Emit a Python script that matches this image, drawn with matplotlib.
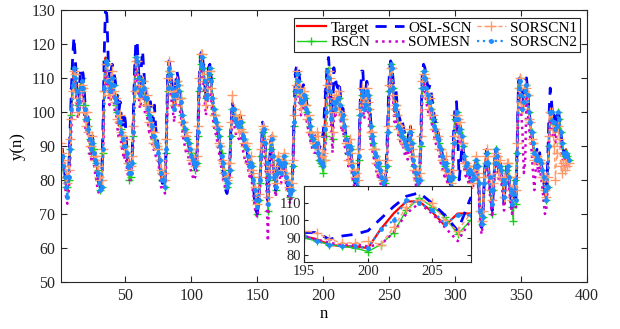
import numpy as np
import matplotlib
matplotlib.use("Agg")
import matplotlib.pyplot as plt

plt.rcParams['font.family'] = ['Liberation Serif', 'DejaVu Serif']
plt.rcParams['mathtext.fontset'] = 'stix'

n = list(range(1, 387))

target = [
 86,88,84,82,79,77,81,90,100,108, 114,110,105,101,104,108,109,106,101,97,
 99,95,91,89,92,88,85,86,82,79, 78,79,90,108,116,113,108,106,109,111,
 107,104,103,99,96,98,94,92,89,91, 87,84,82,83,86,95,108,117,114,109,
 105,107,110,106,103,104,101,98,99,95, 92,93,90,91,88,85,81,80,81,79,
 90,108,113,110,107,104,101,106,110,107, 105,103,98,96,94,92,93,90,88,87,
 86,85,84,86,95,108,115,116,112,108, 103,106,112,113,108,103,100,98,97,94,
 92,89,87,84,82,80,79,80,84,95, 102,100,98,96,97,95,98,96,93,91,
 89,90,86,84,86,83,80,76,73,72, 75,80,88,95,94,90,84,73,82,90,
 92,86,81,78,83,86,84,82,85,87, 84,81,79,77,76,78,85,98,107,111,
 108,106,102,104,105,103,101,99,98,95, 93,92,90,90,91,89,86,85,85,84,
 95,104,111,111,105,97,104,104,100,104, 103,105,101,98,99,95,92,90,87,91,
 88,84,82,80,81,79,88,100,106,104, 101,103,106,104,100,95,93,90,88,86,
 84,85,82,81,79,79,80,85,95,107, 114,112,106,100,103,98,96,95,93,94,
 92,90,91,89,93,94,90,86,84,82, 80,79,81,92,108,112,109,106,104,102,
 103,100,98,96,94,93,92,90,88,87, 85,84,86,82,81,80,78,82,92,98,
 100,97,94,96,92,90,86,84,85,82, 84,81,80,82,85,86,83,78,70,66,
 70,80,86,88,84,80,76,72,78,86, 89,86,83,85,82,79,74,80,84,83,
 80,76,73,77,80,75,90,108,109,104, 100,104,107,108,104,99,96,93,90,87,
 86,88,85,87,84,82,80,76,74,80, 92,101,99,96,98,94,97,100,97,93,
 90,88,86,89,87,86]

osl_scn = [
 85,90,86,83,80,78,82,94,106,116, 122,116,108,103,107,112,113,111,105,99,
 101,97,93,90,93,89,86,85,81,78, 77,80,96,118,132,128,115,109,112,114,
 112,110,107,104,100,103,98,95,100,97, 90,86,82,82,86,99,113,121,120,112,
 108,113,118,112,106,106,103,101,103,99, 97,102,95,93,89,85,81,79,81,79,
 92,110,115,113,109,106,103,108,112,110, 107,104,99,97,95,92,93,90,88,86,
 85,84,83,85,96,110,117,118,114,110, 105,108,113,114,110,104,101,98,97,94,
 92,88,86,83,80,77,76,78,83,96, 103,101,99,97,98,96,99,97,94,91,
 89,90,86,84,86,82,78,74,71,70, 74,80,89,97,95,91,84,74,83,91,
 93,87,80,77,83,86,84,81,85,87, 84,81,78,76,75,77,86,102,112,114,
 113,110,106,107,108,106,104,101,99,96, 94,93,92,93,93,93,89,91,92,94,
 101,108,114,116,110,103,94,113,110,108, 107,109,105,101,101,97,93,91,88,92,
 89,84,82,79,80,78,88,103,112,112, 104,106,109,107,103,97,94,91,89,87,
 85,86,83,82,80,79,80,87,99,111, 115,114,109,104,107,102,99,98,96,97,
 95,93,93,91,95,96,92,87,84,82, 80,79,82,95,111,114,113,110,108,107,
 108,105,102,99,97,95,94,92,90,88, 86,84,86,82,80,79,78,84,96,102,
 103,92,80,84,90,89,85,83,84,81, 83,80,79,81,84,85,82,77,69,66,
 70,80,87,89,85,80,75,71,77,86, 90,87,83,85,82,79,73,79,84,83,
 80,75,72,76,80,74,91,109,110,106, 102,106,109,110,106,100,97,94,91,88,
 87,89,86,88,85,83,80,76,75,84, 98,107,103,98,99,95,98,101,98,94,
 91,89,87,89,88,87]

rscn = [
 85,87,83,81,78,78,80,89,99,107, 113,111,106,102,103,107,110,107,102,98,
 98,96,92,88,91,89,86,85,83,80, 77,78,88,106,115,114,109,107,108,110,
 108,105,102,100,97,97,95,93,90,90, 88,85,80,81,85,93,106,116,115,110,
 106,106,109,107,104,103,102,99,98,96, 93,92,91,90,89,86,82,80,80,78,
 88,106,112,111,108,105,102,105,109,108, 106,104,99,97,95,93,92,91,89,88,
 87,86,83,85,93,106,114,116,113,109, 104,105,111,113,110,104,101,99,97,95,
 93,90,88,85,83,81,78,79,83,93, 101,101,99,97,96,96,97,97,94,92,
 90,89,87,85,85,84,81,77,74,70, 74,79,87,94,95,91,85,71,80,89,
 93,87,82,77,82,86,85,83,84,87, 85,82,80,77,75,77,84,96,106,111,
 109,107,103,103,105,104,102,100,98,96, 94,92,91,90,90,88,86,85,84,82,
 86,93,106,113,108,102,92,100,101,103, 104,104,102,99,98,96,93,90,88,90,
 89,85,82,80,80,77,86,99,105,105, 102,102,105,105,101,96,93,91,89,87,
 85,84,83,81,79,78,79,84,94,106, 114,113,107,101,102,99,96,95,94,93,
 92,91,90,89,92,94,91,87,84,82, 80,78,80,90,107,112,110,107,105,103,
 103,101,98,97,95,93,92,91,89,87, 86,84,85,83,81,80,78,81,91,98,
 100,98,94,95,93,90,87,84,84,83, 83,82,80,81,84,86,84,79,71,67,
 69,79,85,88,85,81,77,70,77,85, 89,87,84,84,83,80,75,79,83,84,
 81,77,72,68,80,73,88,107,110,105, 101,103,106,108,105,100,97,94,91,88,
 86,87,86,86,85,83,81,77,74,78, 90,100,100,97,97,95,96,100,98,94,
 91,88,87,88,87,86]

somesn = [
 87,86,85,80,75,73,76,84,95,104, 110,108,103,98,100,104,106,104,98,94,
 95,92,87,86,88,85,82,80,77,76, 76,78,86,103,112,111,105,102,104,107,
 104,100,99,95,92,94,90,88,86,88, 84,81,80,80,84,91,104,114,111,105,
 101,103,106,103,99,100,97,94,95,91, 89,89,87,87,85,82,78,77,78,76,
 86,104,110,107,103,100,97,102,106,104, 101,99,95,92,90,88,89,86,84,82,
 81,80,81,83,91,104,111,113,109,104, 99,102,108,109,104,99,96,94,93,90,
 88,85,83,80,79,77,77,78,81,91, 98,97,95,93,93,92,94,92,89,87,
 85,86,83,81,82,79,76,72,70,69, 72,77,85,92,91,86,78,62,78,87,
 89,83,78,75,80,83,81,79,82,84, 81,78,76,74,73,75,82,95,104,108,
 105,103,99,101,102,100,98,96,94,92, 90,89,88,88,91,89,87,86,86,85,
 86,93,104,110,104,96,88,100,98,101, 100,102,98,94,95,91,88,87,84,88,
 85,81,79,77,78,76,85,96,103,101, 98,100,103,101,96,91,89,87,85,83,
 81,82,80,78,76,76,77,82,92,104, 111,109,103,97,100,95,93,92,90,91,
 89,87,88,86,90,91,87,83,81,79, 77,76,78,89,104,109,106,103,101,99,
 100,97,95,93,91,90,89,87,85,84, 82,81,83,79,78,77,75,79,89,95,
 97,94,91,93,89,87,83,81,82,79, 81,78,77,79,82,83,80,75,67,64,
 67,77,83,85,81,77,73,69,75,83, 86,83,80,82,79,76,71,77,81,80,
 77,73,70,74,77,72,86,104,106,100, 94,82,85,104,100,95,92,88,82,77,
 83,85,82,84,81,78,74,70,71,77, 89,98,96,93,95,91,94,97,94,90,
 87,85,83,86,84,83]

sorscn1 = [
 91,88,86,84,81,79,83,92,98,106, 112,111,104,100,103,106,108,107,100,96,
 100,94,90,90,93,87,86,87,84,81, 80,80,89,106,114,114,106,105,110,112,
 106,103,104,98,97,99,94,93,90,92, 88,85,83,84,87,96,106,115,115,108,
 104,106,109,107,102,105,102,97,100,96, 91,94,91,90,89,86,83,82,82,80,
 92,110,115,112,106,105,102,104,109,108, 104,104,97,97,93,93,94,89,89,86,
 87,86,84,87,96,110,117,117,111,109, 102,107,112,112,107,104,99,99,96,96,
 91,90,86,85,82,81,80,81,85,97, 105,101,99,97,98,94,99,95,94,91,
 90,91,87,85,87,83,82,78,74,73, 76,81,89,96,95,91,85,75,83,92,
 93,87,82,79,84,87,85,83,86,88, 85,82,80,78,77,79,86,99,108,112,
 107,107,101,105,106,102,102,98,99,94, 94,93,91,91,94,93,89,87,87,88,
 86,96,108,112,110,100,94,104,101,105, 102,106,100,99,98,96,91,91,86,92,
 88,85,83,81,82,80,89,101,107,103, 102,104,107,103,101,94,94,89,89,85,
 85,86,83,82,80,80,81,86,96,108, 113,113,105,101,102,99,95,96,92,95,
 91,91,90,90,92,95,89,87,83,83, 81,80,82,93,109,111,110,105,105,101,
 104,99,99,95,95,92,93,89,89,86, 86,83,87,83,82,81,79,83,93,99,
 99,98,93,97,91,91,85,85,84,83, 83,82,79,83,84,87,82,79,71,68,
 71,81,87,89,85,81,77,74,79,87, 88,87,82,86,81,80,75,81,85,85,
 81,77,74,78,81,77,91,107,110,103, 101,103,108,107,105,98,97,92,91,86,
 87,87,86,86,85,81,81,77,75,81, 93,100,100,95,90,80,88,96,92,84,
 82,85,83,86,84,85]

sorscn2 = [
 86,87,84,81,78,75,81,89,101,108, 113,110,106,101,103,107,109,107,101,98,
 98,95,92,89,91,88,86,85,82,79, 77,78,89,107,115,114,109,106,108,110,
 108,104,103,100,97,97,94,92,90,90, 88,84,82,82,85,94,107,116,115,110,
 105,106,109,107,104,104,101,99,98,96, 93,93,91,90,88,86,82,80,80,78,
 89,107,113,111,107,105,101,105,109,108, 106,103,99,97,95,92,92,91,89,87,
 86,85,84,85,94,107,114,116,113,109, 104,105,111,113,109,104,101,98,97,95,
 93,90,87,85,82,80,78,79,83,93, 101,101,98,97,96,96,97,97,93,92,
 90,89,87,84,85,84,80,77,74,72, 74,80,87,94,95,91,85,73,81,89,
 92,87,81,78,82,86,85,82,84,87, 85,81,79,77,76,77,84,97,106,111,
 109,106,103,103,105,104,101,100,98,96, 93,92,90,90,91,88,86,85,85,84,
 95,100,112,110,106,98,103,103,101,103, 104,104,102,98,99,96,92,90,88,90,
 89,84,82,80,80,78,87,99,106,105, 101,102,106,105,101,96,93,91,88,87,
 84,85,83,81,79,78,80,84,94,106, 114,113,107,101,102,99,96,95,93,94,
 92,91,90,89,92,94,91,86,84,82, 80,78,80,91,107,112,110,107,105,103,
 103,101,98,96,95,93,92,90,89,87, 85,84,85,83,81,80,78,81,91,98,
 100,98,94,95,93,90,87,84,85,82, 83,82,80,81,84,86,84,79,71,67,
 69,79,85,88,85,81,77,73,77,85, 89,87,84,84,83,80,75,79,83,84,
 81,77,73,76,80,74,88,107,109,105, 101,103,106,108,105,100,97,94,91,88,
 86,87,86,86,85,83,81,77,74,78, 90,100,100,97,97,95,96,100,98,94,
 91,88,87,88,87,86]

labels = ["Target", "RSCN", "OSL-SCN", "SOMESN", "SORSCN1", "SORSCN2"]
xticks_main = [50, 100, 150, 200, 250, 300, 350, 400]
yticks_main = [50, 60, 70, 80, 90, 100, 110, 120, 130]
xticks_inset = [195, 200, 205]
yticks_inset = [80, 90, 100, 110]

C_T = '#ff0000'
C_O = '#0000ff'
C_R = '#1ccf1c'
C_S = '#cc00cc'
C_1 = '#ff9a6a'
C_2 = '#1e8cff'

def draw(ax):
    h = {}
    h["Target"], = ax.plot(n, target, '-', color=C_T, lw=1.6)
    h["RSCN"], = ax.plot(n, rscn, '-', color=C_R, lw=1.0,
                         marker='+', ms=6, mew=1.0)
    h["OSL-SCN"], = ax.plot(n, osl_scn, '--', color=C_O, lw=2.0,
                            dashes=(4, 3))
    h["SOMESN"], = ax.plot(n, somesn, ':', color=C_S, lw=1.8)
    h["SORSCN1"], = ax.plot(n, sorscn1, '--', color=C_1, lw=1.0,
                            marker='+', ms=7, mew=1.0, dashes=(3, 2))
    h["SORSCN2"], = ax.plot(n, sorscn2, ':', color=C_2, lw=1.6,
                            marker='.', ms=5)
    return h

fig = plt.figure(figsize=(6.2, 3.29), dpi=100)
ax = fig.add_axes([0.098, 0.143, 0.849, 0.827])
h = draw(ax)
ax.set_xlim(1, 400)
ax.set_ylim(50, 130)
ax.set_xticks(xticks_main)
ax.set_yticks(yticks_main)
ax.tick_params(direction='in', top=True, right=True, length=4, width=0.8,
               labelsize=11.5, colors='#262626', pad=4)
for s in ax.spines.values():
    s.set_color('#262626')
    s.set_linewidth(0.8)
ax.set_xlabel('n', fontsize=12, labelpad=2)
ax.set_ylabel('y(n)', fontsize=12, labelpad=4)

leg = ax.legend([h[k] for k in labels], labels, ncol=3, loc='upper right',
                bbox_to_anchor=(0.987, 0.971), borderaxespad=0,
                fontsize=11, fancybox=False, framealpha=1,
                edgecolor='#262626', handlelength=1.9, handletextpad=0.3,
                columnspacing=0.3, labelspacing=0.05, borderpad=0.2)
leg.get_frame().set_linewidth(0.8)

ax2 = fig.add_axes([0.490, 0.204, 0.269, 0.231])
draw(ax2)
ax2.set_xlim(195, 208)
ax2.set_ylim(76, 120)
ax2.set_xticks(xticks_inset)
ax2.set_yticks(yticks_inset)
ax2.tick_params(direction='in', top=True, right=True, length=3, width=0.8,
                labelsize=10.5, colors='#262626', pad=2)
for s in ax2.spines.values():
    s.set_color('#262626')
    s.set_linewidth(0.8)

fig.savefig('out.png', dpi=100)
